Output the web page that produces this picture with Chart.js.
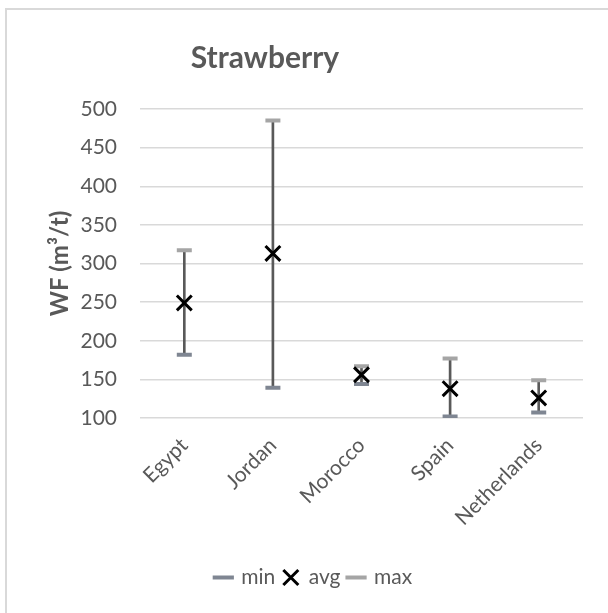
<!DOCTYPE html>
<html>
<head>
<meta charset="utf-8">
<script src="https://cdn.jsdelivr.net/npm/chart.js@4"></script>
<style>
html, body { margin: 0; padding: 0; background: #fff; }
#frame { position: absolute; left: 5px; top: 8px; width: 620px; height: 620px; border: 2px solid #d9d9d9; }
#wrap { position: absolute; left: 0; top: 0; width: 608px; height: 613px; }
#title { position: absolute; left: 165px; width: 200px; top: 38px; text-align: center;
         font: bold 30px Lato; color: #595959; line-height: 36px; }
</style>
</head>
<body>
<div id="frame"></div>
<div id="wrap"><canvas id="myChart"></canvas></div>
<div id="title">Strawberry</div>
<script>
const countries = ['Egypt', 'Jordan', 'Morocco', 'Spain', 'Netherlands']
const minWF = [182, 139, 144, 102, 107]
const avgWF = [249, 313, 156, 138, 126]
const maxWF = [317, 485, 167, 177, 149]
const yTicks = [100, 150, 200, 250, 300, 350, 400, 450, 500]

const grey = '#595959'
const font = 'Lato'

const myChart = () => {
    const ctx = document.getElementById('myChart')
    new Chart(ctx, {
        data: {
            labels: countries,
            datasets: [
                {
                    type: 'line',
                    label: 'min',
                    data: minWF,
                    showLine: false,
                    pointStyle: 'line',
                    pointRadius: 7.5,
                    pointHoverRadius: 7.5,
                    borderColor: '#7f8692',
                    backgroundColor: '#7f8692',
                    borderWidth: 4,
                    pointBorderWidth: 4,
                    order: 2
                },
                {
                    type: 'line',
                    label: 'avg',
                    data: avgWF,
                    showLine: false,
                    pointStyle: 'crossRot',
                    pointRadius: 10.5,
                    pointHoverRadius: 10.5,
                    borderColor: '#000',
                    backgroundColor: '#000',
                    borderWidth: 3,
                    pointBorderWidth: 3,
                    order: 1
                },
                {
                    type: 'line',
                    label: 'max',
                    data: maxWF,
                    showLine: false,
                    pointStyle: 'line',
                    pointRadius: 7.5,
                    pointHoverRadius: 7.5,
                    borderColor: '#a5a5a5',
                    backgroundColor: '#a5a5a5',
                    borderWidth: 4,
                    pointBorderWidth: 4,
                    order: 3
                },
                {
                    type: 'bar',
                    label: 'range',
                    data: countries.map((c, i) => [minWF[i], maxWF[i]]),
                    backgroundColor: grey,
                    borderWidth: 0,
                    barThickness: 2,
                    order: 4
                }
            ]
        },
        options: {
            responsive: true,
            maintainAspectRatio: false,
            animation: false,
            layout: { padding: { left: 45, right: 25, top: 109, bottom: 15 } },
            plugins: {
                title: { display: false },
                legend: {
                    position: 'bottom',
                    labels: {
                        usePointStyle: true,
                        color: grey,
                        font: { family: font, size: 21 },
                        boxWidth: 15,
                        boxHeight: 15,
                        padding: 8,
                        sort: (a, b) => a.datasetIndex - b.datasetIndex,
                        filter: (item) => item.text !== 'range'
                    }
                },
                tooltip: { enabled: false }
            },
            scales: {
                x: {
                    grid: { display: false },
                    border: { display: false },
                    ticks: {
                        color: grey,
                        font: { family: font, size: 21 },
                        minRotation: 45,
                        maxRotation: 45,
                        padding: 7
                    },
                    afterFit: (scale) => { scale.height = 141 }
                },
                y: {
                    min: 100,
                    max: 500,
                    afterBuildTicks: (scale) => { scale.ticks = yTicks.map(v => ({ value: v })) },
                    grid: { color: '#d9d9d9', lineWidth: 1.5, drawTicks: false },
                    border: { display: false },
                    ticks: {
                        color: grey,
                        font: { family: font, size: 21 },
                        padding: 23
                    },
                    title: {
                        display: true,
                        text: 'WF (m³/t)',
                        color: grey,
                        font: { family: font, size: 24, weight: 'bold' },
                        padding: { top: 1, bottom: 0 }
                    },
                    afterFit: (scale) => { scale.width = 95 }
                }
            }
        }
    })
}
myChart()
</script>
</body>
</html>
